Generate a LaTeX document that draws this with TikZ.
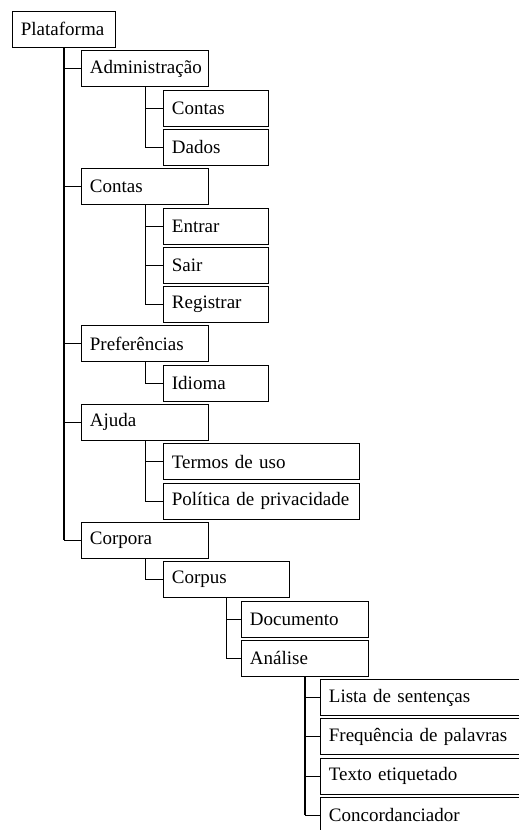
\documentclass[tikz,border=0pt]{standalone}
\usepackage{fontspec}
\setmainfont{Liberation Serif}
\tikzset{
  box/.style={draw, line width=0.8pt, anchor=north west, minimum height=36pt,
    inner xsep=8.5pt, inner ysep=0pt, text width=#1, align=left,
    font=\fontsize{19}{22}\selectfont},
  branch/.style={line width=0.8pt},
  trunk/.style={line width=1.6pt}
}

\begin{document}
\begin{tikzpicture}[x=1pt, y=-1pt]
      \useasboundingbox (0,0) rectangle (519,830);

      % root
      \node[box=86pt] (plat) at (12, 11) {Plataforma};

      % first level
      \node[box=110pt] (adm) at (81, 50.3) {Administração};
      \node[box=88pt] (admcontas) at (163, 89.6) {Contas};
      \node[box=88pt] (dados) at (163, 128.9) {Dados};

      \node[box=110pt] (contas) at (81, 168.2) {Contas};
      \node[box=88pt] (entrar) at (163, 207.5) {Entrar};
      \node[box=88pt] (sair) at (163, 246.8) {Sair};
      \node[box=88pt] (registrar) at (163, 286.1) {Registrar};

      \node[box=110pt] (pref) at (81, 325.4) {Preferências};
      \node[box=88pt] (idioma) at (163, 364.7) {Idioma};

      \node[box=110pt] (ajuda) at (81, 404) {Ajuda};
      \node[box=179pt] (termos) at (163, 443.3) {Termos de uso};
      \node[box=179pt] (politica) at (163, 482.6) {Política de privacidade};

      \node[box=110pt] (corpora) at (81, 521.9) {Corpora};
      \node[box=109pt] (corpus) at (163, 561.2) {Corpus};
      \node[box=110pt] (documento) at (241, 600.5) {Documento};
      \node[box=110pt] (analise) at (241, 639.8) {Análise};

      \node[box=193pt] (lista) at (320, 679.1) {Lista de sentenças};
      \node[box=193pt] (freq) at (320, 718.4) {Frequência de palavras};
      \node[box=193pt] (texto) at (320, 757.7) {Texto etiquetado};
      \node[box=193pt] (concord) at (320, 797) {Concordanciador};

      % main trunk
      \draw[trunk] (plat.south) -- (plat.south |- corpora.west);
      \foreach \child in {adm, contas, pref, ajuda, corpora}
        \draw[branch] (plat.south |- \child.west) -- (\child.west);

      % sub trees
      \draw[branch] (adm.south) |- (admcontas.west);
      \draw[branch] (adm.south) |- (dados.west);

      \draw[branch] (contas.south) |- (entrar.west);
      \draw[branch] (contas.south) |- (sair.west);
      \draw[branch] (contas.south) |- (registrar.west);

      \draw[branch] (pref.south) |- (idioma.west);

      \draw[branch] (ajuda.south) |- (termos.west);
      \draw[branch] (ajuda.south) |- (politica.west);

      \draw[branch] (corpora.south) |- (corpus.west);

      \draw[branch] (corpus.south) |- (documento.west);
      \draw[branch] (corpus.south) |- (analise.west);

      \draw[trunk] (analise.south) -- (analise.south |- concord.west);
      \foreach \child in {lista, freq, texto, concord}
        \draw[branch] (analise.south |- \child.west) -- (\child.west);
\end{tikzpicture}
\end{document}
